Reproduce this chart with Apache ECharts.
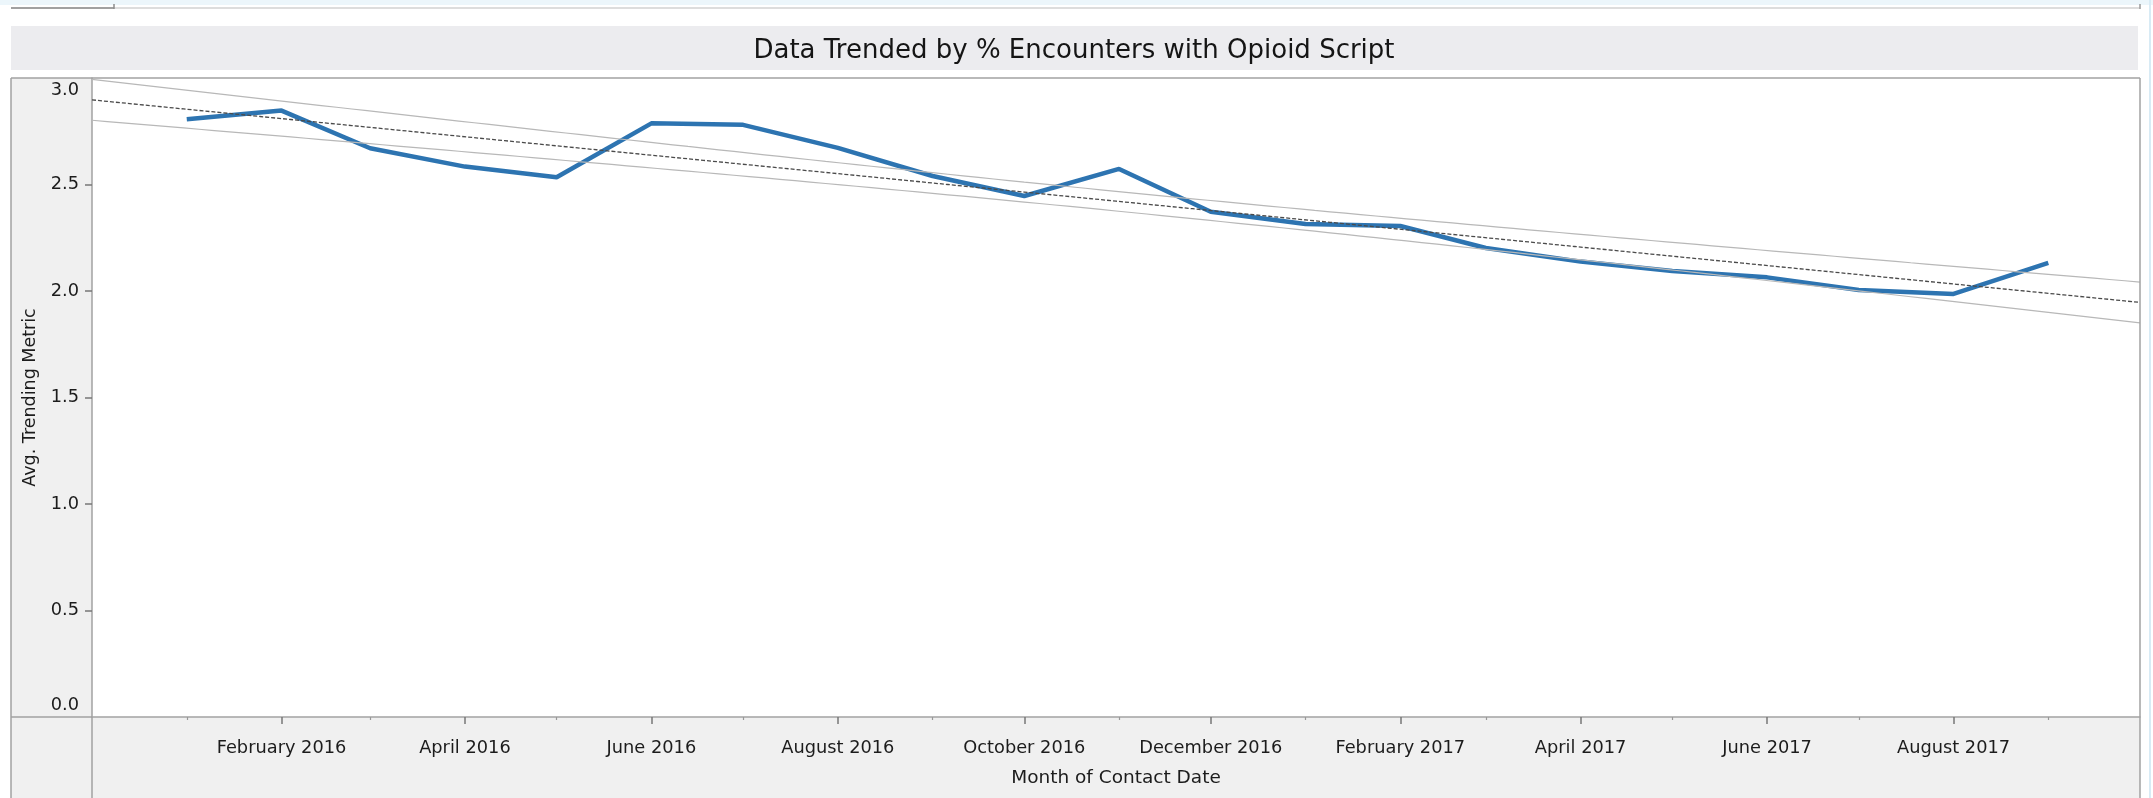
<!DOCTYPE html>
<html>
<head>
<meta charset="utf-8">
<script src="https://cdn.jsdelivr.net/npm/echarts@6/dist/echarts.min.js"></script>
<style>
  html, body { margin: 0; padding: 0; background: #ffffff; }
  #chart { width: 2153px; height: 798px; }
</style>
</head>
<body>
<div id="chart"></div>
<script>
// ---- Data ----
const MONTHS = ['2016-01','2016-02','2016-03','2016-04','2016-05','2016-06','2016-07',
                '2016-08','2016-09','2016-10','2016-11','2016-12','2017-01','2017-02',
                '2017-03','2017-04','2017-05','2017-06','2017-07','2017-08','2017-09'];
const VALUES = [2.806, 2.847, 2.670, 2.584, 2.534, 2.787, 2.780,
                2.672, 2.540, 2.446, 2.573, 2.372, 2.315, 2.305,
                2.202, 2.138, 2.094, 2.064, 2.005, 1.986, 2.132];
const X_RANGE = ['2015-12', '2017-10'];
const X_LABEL_MONTHS = ['2016-02','2016-04','2016-06','2016-08','2016-10','2016-12',
                        '2017-02','2017-04','2017-06','2017-08'];
const X_MINOR_MONTHS = ['2016-01','2016-03','2016-05','2016-07','2016-09','2016-11',
                        '2017-01','2017-03','2017-05','2017-07','2017-09'];
const Y_TICKS = [0, 0.5, 1.0, 1.5, 2.0, 2.5, 3.0];
const Y_TICK_MARKS = [0.5, 1.0, 1.5, 2.0, 2.5];
const TITLE = 'Data Trended by % Encounters with Opioid Script';
const X_NAME = 'Month of Contact Date';
const Y_NAME = 'Avg. Trending Metric';
const T_95_DF19 = 2.093; // Student t, 95% two-sided, n-2 = 19 d.f.

const MONTH_NAMES = ['January','February','March','April','May','June','July',
                     'August','September','October','November','December'];
function ts(ym) { const p = ym.split('-').map(Number); return new Date(p[0], p[1] - 1, 1).getTime(); }

// ---- Linear trend with 95% confidence band (computed from the data) ----
const DAY = 86400000;
const t0 = ts(X_RANGE[0]), t1 = ts(X_RANGE[1]);
const xs = MONTHS.map(m => (ts(m) - t0) / DAY);
const n = xs.length;
const mx = xs.reduce((a, b) => a + b, 0) / n;
const my = VALUES.reduce((a, b) => a + b, 0) / n;
let sxx = 0, sxy = 0;
for (let i = 0; i < n; i++) { sxx += (xs[i] - mx) ** 2; sxy += (xs[i] - mx) * (VALUES[i] - my); }
const slope = sxy / sxx, icpt = my - slope * mx;
let sse = 0;
for (let i = 0; i < n; i++) { sse += (VALUES[i] - (icpt + slope * xs[i])) ** 2; }
const se = Math.sqrt(sse / (n - 2));
const trend = [], upper = [], lower = [];
const totalDays = (t1 - t0) / DAY;
const steps = 134;
for (let k = 0; k <= steps; k++) {
  const d = totalDays * k / steps;
  const fit = icpt + slope * d;
  const hw = T_95_DF19 * se * Math.sqrt(1 / n + (d - mx) ** 2 / sxx);
  const t = t0 + d * DAY;
  trend.push([t, fit]); upper.push([t, fit + hw]); lower.push([t, fit - hw]);
}

const mainData = MONTHS.map((m, i) => [ts(m), VALUES[i]]);

// ---- Layout constants (pixels) ----
const W = 2153, H = 798;
const PL = 92, PR = 2140, PT = 78, PB = 717, LEFT_EDGE = 11;
const BORDER = '#a2a2a2';
const FONT = 'DejaVu Sans';
const TEXT = '#1c1c1c';

const chart = echarts.init(document.getElementById('chart'), null, { renderer: 'canvas', width: W, height: H });

chart.setOption({
  backgroundColor: '#ffffff',
  animation: false,
  title: {
    text: TITLE,
    left: 1074, top: 51, padding: 0,
    textAlign: 'center', textVerticalAlign: 'middle',
    textStyle: { fontFamily: FONT, fontSize: 26, fontWeight: 'normal', color: '#151515' }
  },
  grid: { left: PL, top: PT, right: W - PR, bottom: H - PB, containLabel: false, outerBoundsMode: 'none' },
  xAxis: [{
    type: 'value',
    min: t0, max: t1,
    name: X_NAME, nameLocation: 'middle', nameGap: 52,
    nameTextStyle: { fontFamily: FONT, fontSize: 18.5, color: TEXT },
    axisLine: { show: true, lineStyle: { color: BORDER, width: 1.5 } },
    axisTick: { show: true, length: 7, customValues: X_LABEL_MONTHS.map(ts), lineStyle: { color: '#777', width: 1.5 } },
    axisLabel: {
      customValues: X_LABEL_MONTHS.map(ts),
      formatter: v => { const d = new Date(v); return MONTH_NAMES[d.getMonth()] + ' ' + d.getFullYear(); },
      fontFamily: FONT, fontSize: 17.8, color: TEXT, margin: 22, hideOverlap: false
    },
    splitLine: { show: false }
  }, {
    type: 'value',
    position: 'bottom',
    min: t0, max: t1,
    axisLine: { show: false },
    axisTick: { show: true, length: 3, customValues: X_MINOR_MONTHS.map(ts), lineStyle: { color: '#999', width: 1.2 } },
    axisLabel: { show: false },
    splitLine: { show: false }
  }],
  yAxis: {
    type: 'value',
    min: 0, max: 3, interval: 0.5,
    name: Y_NAME, nameLocation: 'middle', nameGap: 52, nameRotate: 90,
    nameTextStyle: { fontFamily: FONT, fontSize: 17.5, color: TEXT },
    axisLine: { show: true, lineStyle: { color: BORDER, width: 1.5 } },
    axisTick: { show: true, length: 7, customValues: Y_TICK_MARKS, lineStyle: { color: '#777', width: 1.5 } },
    axisLabel: {
      customValues: Y_TICKS,
      formatter: v => v.toFixed(1),
      fontFamily: FONT, fontSize: 17.8, color: TEXT, margin: 13,
      verticalAlignMaxLabel: 'top', verticalAlignMinLabel: 'bottom',
      padding: [3, 0, 3, 0]
    },
    splitLine: { show: false }
  },
  series: [{
    name: 'Avg. Trending Metric',
    type: 'line',
    data: mainData,
    showSymbol: false, symbol: 'none',
    lineStyle: { color: '#2d74b1', width: 4.5 },
    z: 3
  }, {
    name: 'Upper band', type: 'line', data: upper, showSymbol: false, symbol: 'none', silent: true,
    lineStyle: { color: '#b8b8b8', width: 1.2 }, z: 4
  }, {
    name: 'Lower band', type: 'line', data: lower, showSymbol: false, symbol: 'none', silent: true,
    lineStyle: { color: '#b8b8b8', width: 1.2 }, z: 4
  }, {
    name: 'Trend', type: 'line', data: trend, showSymbol: false, symbol: 'none', silent: true,
    lineStyle: { color: '#4a4a4a', width: 1.3, type: [4, 2] }, z: 5
  }],
  graphic: [
    // top strip
    { type: 'rect', z: -10, shape: { x: 0, y: 0, width: W, height: 5 }, style: { fill: '#ecf6fb' } },
    { type: 'line', z: -9, shape: { x1: LEFT_EDGE, y1: 8, x2: PR, y2: 8 }, style: { stroke: '#d2d2d2', lineWidth: 1.5 } },
    { type: 'line', z: -9, shape: { x1: LEFT_EDGE, y1: 8, x2: 114, y2: 8 }, style: { stroke: '#8c8c8c', lineWidth: 1.5 } },
    { type: 'line', z: -9, shape: { x1: 114, y1: 4, x2: 114, y2: 9 }, style: { stroke: '#8c8c8c', lineWidth: 1.5 } },
    { type: 'line', z: -9, shape: { x1: PR, y1: 4, x2: PR, y2: 9 }, style: { stroke: '#9a9a9a', lineWidth: 1.5 } },
    { type: 'line', z: -9, shape: { x1: 2150, y1: 0, x2: 2150, y2: H }, style: { stroke: '#d8ebf5', lineWidth: 2 } },
    // title band
    { type: 'rect', z: -10, shape: { x: LEFT_EDGE, y: 26, width: 2138 - LEFT_EDGE, height: 44 }, style: { fill: '#ececef' } },
    // left axis panel
    { type: 'rect', z: -10, shape: { x: LEFT_EDGE, y: PT, width: PL - LEFT_EDGE, height: H - PT }, style: { fill: '#f0f0f0' } },
    // bottom axis panel
    { type: 'rect', z: -10, shape: { x: LEFT_EDGE, y: PB, width: PR - LEFT_EDGE, height: H - PB }, style: { fill: '#f0f0f0' } },
    // borders
    { type: 'line', z: 10, shape: { x1: LEFT_EDGE, y1: PT, x2: PR, y2: PT }, style: { stroke: BORDER, lineWidth: 1.5 } },
    { type: 'line', z: 10, shape: { x1: LEFT_EDGE, y1: PT, x2: LEFT_EDGE, y2: H }, style: { stroke: BORDER, lineWidth: 1.5 } },
    { type: 'line', z: 10, shape: { x1: PL, y1: PB, x2: PL, y2: H }, style: { stroke: BORDER, lineWidth: 1.5 } },
    { type: 'line', z: 10, shape: { x1: PR, y1: PT, x2: PR, y2: H }, style: { stroke: BORDER, lineWidth: 1.5 } },
    { type: 'line', z: 10, shape: { x1: LEFT_EDGE, y1: PB, x2: PL, y2: PB }, style: { stroke: BORDER, lineWidth: 1.5 } }
  ]
});
</script>
</body>
</html>
